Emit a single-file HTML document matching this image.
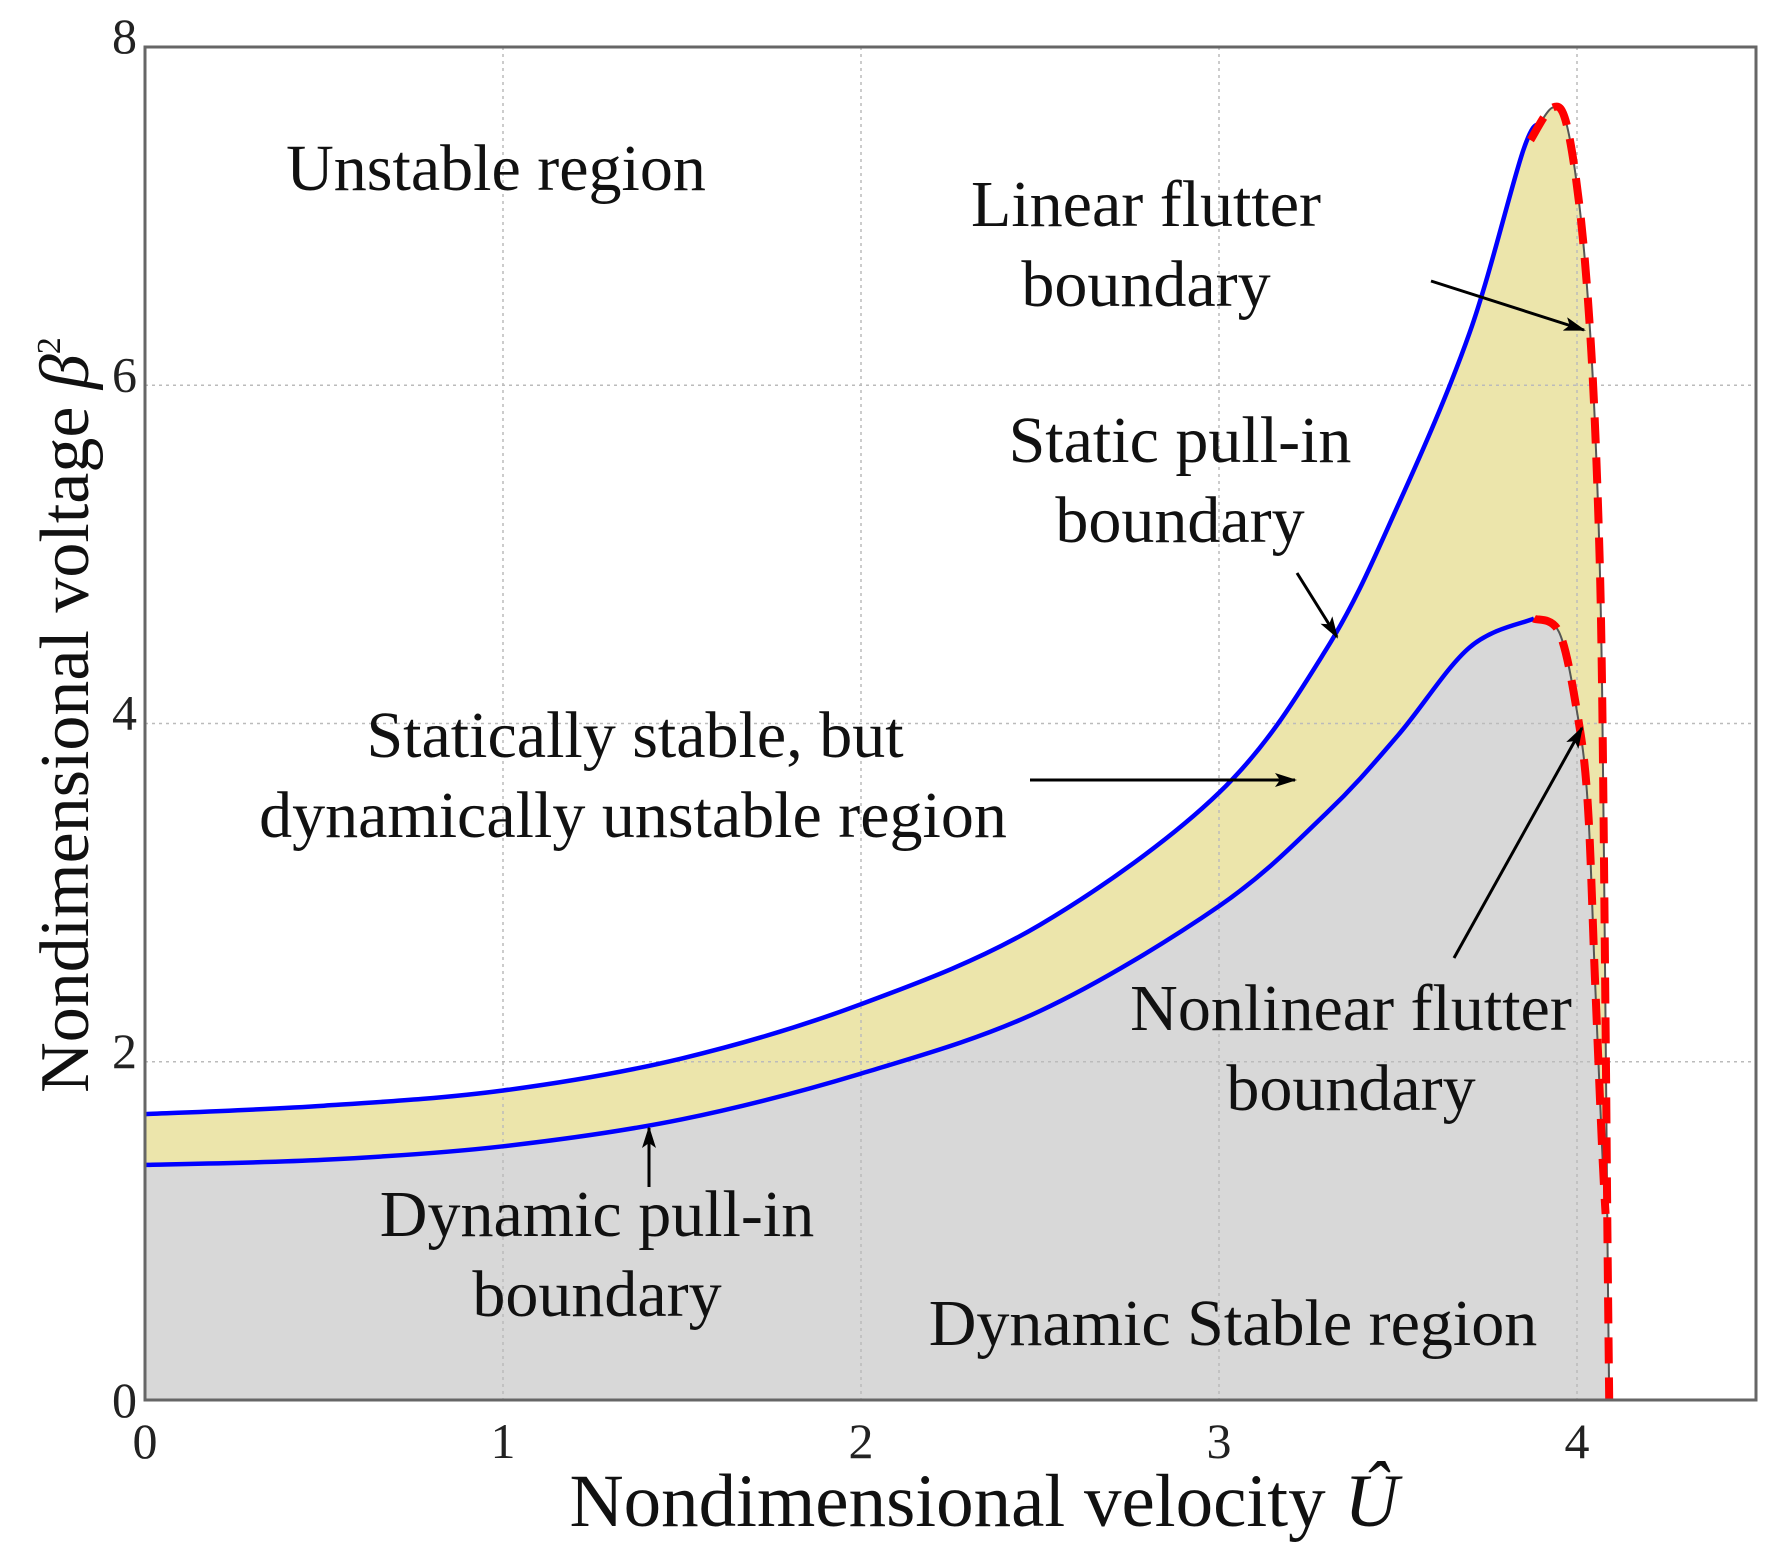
<!DOCTYPE html>
<html><head><meta charset="utf-8"><style>
html,body{margin:0;padding:0;background:#fff;}
svg{display:block;font-family:"Liberation Serif",serif;}
</style></head><body>
<svg id="chart" width="1784" height="1560" viewBox="0 0 1784 1560" xmlns="http://www.w3.org/2000/svg">
<defs>
<marker id="ahb" markerWidth="22" markerHeight="14" refX="20" refY="7" orient="auto" markerUnits="userSpaceOnUse"><path d="M0,0 L22,7 L0,14 L5,7 Z" fill="#000"/></marker></defs>
<g id="fills"></g><g id="grid"></g><g id="curves"></g><g id="axes"></g><g id="labels"></g>
</svg>
<script>
const xTicks=[0,1,2,3,4];
const yTicks=[0,2,4,6,8];
// static pull-in boundary (blue, upper)
const staticX=[0,0.5,1,1.5,2,2.5,3,3.3,3.5,3.7,3.85,3.9];
const staticY=[1.69,1.74,1.83,2.02,2.34,2.81,3.59,4.44,5.29,6.31,7.39,7.55];
// linear flutter boundary (red dashed)
const linX=[3.87,3.93,3.97,4.01,4.04,4.06,4.07,4.08,4.085,4.09];
const linY=[7.45,7.64,7.55,7.0,6.2,5.2,4.2,2.2,1.0,0];
// dynamic pull-in boundary (blue, lower)
const dynX=[0,0.5,1,1.5,2,2.5,3,3.3,3.5,3.7,3.88];
const dynY=[1.39,1.42,1.5,1.66,1.93,2.3,2.92,3.47,3.93,4.45,4.62];
// nonlinear flutter boundary (red dashed)
const nlX=[3.88,3.95,4.0,4.03,4.05,4.07,4.08];
const nlY=[4.62,4.54,4.07,3.53,2.5,1.49,1.1];

const X0=145,X1=1756,Y0=1400,Y1=47,XMAX=4.5,YMAX=8;
const sx=v=>X0+(X1-X0)*v/XMAX, sy=v=>Y0-(Y0-Y1)*v/YMAX;
const NS="http://www.w3.org/2000/svg";
function mk(tag,parent,attrs){const e=document.createElementNS(NS,tag);for(const k in attrs)e.setAttribute(k,attrs[k]);document.getElementById(parent).appendChild(e);return e;}
function P(xs,ys){return xs.map((x,i)=>[sx(x),sy(ys[i])]);}
function smooth(p,move){let d=(move?'M':'L')+p[0][0].toFixed(1)+','+p[0][1].toFixed(1);
 for(let i=0;i<p.length-1;i++){const a=p[Math.max(i-1,0)],b=p[i],c=p[i+1],e=p[Math.min(i+2,p.length-1)];
  const c1=[b[0]+(c[0]-a[0])/6,b[1]+(c[1]-a[1])/6],c2=[c[0]-(e[0]-b[0])/6,c[1]-(e[1]-b[1])/6];
  d+=` C${c1[0].toFixed(1)},${c1[1].toFixed(1)} ${c2[0].toFixed(1)},${c2[1].toFixed(1)} ${c[0].toFixed(1)},${c[1].toFixed(1)}`;}
 return d;}

// fills
let e=mk('path','fills',{d:smooth(P(staticX,staticY),true)+smooth(P(linX,linY),false)+` L${sx(0)},${sy(0)} Z`,fill:'#ece5ab'});


e=mk('path','fills',{d:smooth(P(dynX,dynY),true)+smooth(P(nlX,nlY),false)+` L${sx(4.09)},${sy(0)} L${sx(0)},${sy(0)} Z`,fill:'#d8d8d8'});



// grid + ticks
xTicks.forEach(t=>{
 if(t>0){const g=mk('line','grid',{x1:sx(t),x2:sx(t),y1:Y1,y2:Y0,stroke:'#bbb','stroke-width':1.5,'stroke-dasharray':'3,4'});
 
 }
 const l=mk('text','axes',{x:sx(t),y:Y0+58,'font-size':50,'text-anchor':'middle',fill:'#222'});
 l.textContent=t;
 
 
});
yTicks.forEach(t=>{
 if(t>0&&t<8){const g=mk('line','grid',{x1:X0,x2:X1,y1:sy(t),y2:sy(t),stroke:'#bbb','stroke-width':1.5,'stroke-dasharray':'3,4'});
 
 }
 const l=mk('text','axes',{x:X0-8,y:sy(t)+(t==0?17:6),'font-size':50,'text-anchor':'end',fill:'#222'});
 l.textContent=t;
 
 
});
e=mk('rect','axes',{x:X0,y:Y1,width:X1-X0,height:Y0-Y1,fill:'none',stroke:'#666','stroke-width':3});



// curves
e=mk('path','curves',{d:smooth(P(linX,linY),true),fill:'none',stroke:'#555','stroke-width':2});


e=mk('path','curves',{d:smooth(P(nlX,nlY),true),fill:'none',stroke:'#555','stroke-width':2});


e=mk('path','curves',{d:smooth(P(staticX,staticY),true),fill:'none',stroke:'#0000ff','stroke-width':4.5});


e=mk('path','curves',{d:smooth(P(dynX,dynY),true),fill:'none',stroke:'#0000ff','stroke-width':4.5});


e=mk('path','curves',{d:smooth(P(linX,linY),true),fill:'none',stroke:'#ff0000','stroke-width':8,'stroke-dasharray':'26,14'});


e=mk('path','curves',{d:smooth(P(nlX,nlY),true),fill:'none',stroke:'#ff0000','stroke-width':8,'stroke-dasharray':'26,14'});



// annotations
const texts=[
 ['unstable-region-label','Unstable region',496,190],
 ['linear-flutter-label','Linear flutter',1146,226],
 ['linear-flutter-label-2','boundary',1146,306],
 ['static-pull-in-label','Static pull-in',1180,462],
 ['static-pull-in-label-2','boundary',1180,542],
 ['statically-stable-label','Statically stable, but',635,757],
 ['statically-stable-label-2','dynamically unstable region',633,837],
 ['nonlinear-flutter-label','Nonlinear flutter',1351,1030],
 ['nonlinear-flutter-label-2','boundary',1351,1110],
 ['dynamic-pull-in-label','Dynamic pull-in',597,1236],
 ['dynamic-pull-in-label-2','boundary',597,1316],
 ['dynamic-stable-label','Dynamic Stable region',1233,1345]
];
texts.forEach(t=>{const l=mk('text','labels',{x:t[2],y:t[3],'font-size':66,'text-anchor':'middle',fill:'#111'});
 l.textContent=t[1];
 
 });
const arrows=[
 ['linear-flutter-arrow',1431,281,1584,330],
 ['static-pull-in-arrow',1297,573,1337,637],
 ['statically-stable-arrow',1030,780,1295,780],
 ['nonlinear-flutter-arrow',1454,958,1582,728],
 ['dynamic-pull-in-arrow',649,1187,649,1128]
];
arrows.forEach(a=>{const l=mk('line','labels',{x1:a[1],y1:a[2],x2:a[3],y2:a[4],stroke:'#000','stroke-width':3,'marker-end':'url(#ahb)'});
 
 });
e=mk('text','labels',{x:984,y:1526,'font-size':75,'text-anchor':'middle',fill:'#111'});
e.innerHTML='Nondimensional velocity <tspan font-style="italic">Û</tspan>';


e=mk('text','labels',{x:0,y:0,'font-size':70,'text-anchor':'middle',fill:'#111',transform:'translate(88,715) rotate(-90)'});
e.innerHTML='Nondimensional voltage  <tspan font-style="italic">β</tspan><tspan font-size="34" dy="-28">2</tspan>';


</script>
</body></html>
